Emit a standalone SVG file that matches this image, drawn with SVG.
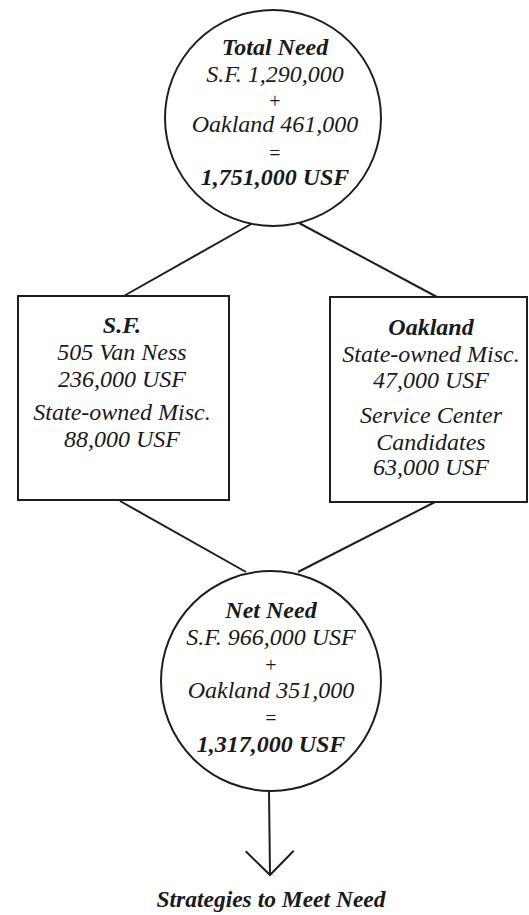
<svg xmlns="http://www.w3.org/2000/svg" width="529" height="915" viewBox="0 0 529 915">
  <style>
    .shape { fill: #ffffff; stroke: #1e1e1e; stroke-width: 2; }
    .conn { fill: none; stroke: #1e1e1e; stroke-width: 2; }
    text { font-family: "Liberation Serif", "Times New Roman", serif; font-size: 24px; font-style: italic; fill: #1a1a1a; text-anchor: middle; }
    .b { font-weight: bold; }
    .op { font-style: normal; font-size: 20px; }
  </style>
  <defs>
    <marker id="vhead" markerUnits="userSpaceOnUse" markerWidth="60" markerHeight="60" refX="0" refY="0" viewBox="-30 -30 60 60" orient="auto" overflow="visible">
      <path d="M -24 -24 L 0 0 L -24 24" fill="none" stroke="#1e1e1e" stroke-width="2"/>
    </marker>
  </defs>
  <rect x="0" y="0" width="529" height="915" fill="#ffffff"/>

  <g id="connectors">
    <line class="conn" x1="253" y1="223" x2="122" y2="297"/>
    <line class="conn" x1="299" y1="223" x2="437" y2="297"/>
    <line class="conn" x1="120" y1="501" x2="246" y2="572"/>
    <line class="conn" x1="435" y1="502" x2="298" y2="572"/>
    <line class="conn" x1="269" y1="791" x2="270" y2="875" marker-end="url(#vhead)"/>
  </g>

  <g id="total-need">
    <circle class="shape" cx="273" cy="118" r="108"/>
    <text x="275" y="55" class="b">Total Need</text>
    <text x="275" y="82">S.F. 1,290,000</text>
    <text x="275" y="108" class="op">+</text>
    <text x="275" y="132">Oakland 461,000</text>
    <text x="275" y="160" class="op">=</text>
    <text x="275" y="185" class="b">1,751,000 USF</text>
  </g>

  <g id="sf-box">
    <rect class="shape" x="18" y="296" width="211" height="204"/>
    <text x="122" y="333" class="b">S.F.</text>
    <text x="122" y="360">505 Van Ness</text>
    <text x="122" y="387">236,000 USF</text>
    <text x="122" y="420">State-owned Misc.</text>
    <text x="122" y="447">88,000 USF</text>
  </g>

  <g id="oakland-box">
    <rect class="shape" x="330" y="297" width="197" height="205"/>
    <text x="431" y="335" class="b">Oakland</text>
    <text x="431" y="362">State-owned Misc.</text>
    <text x="431" y="388">47,000 USF</text>
    <text x="431" y="423">Service Center</text>
    <text x="431" y="450">Candidates</text>
    <text x="431" y="475">63,000 USF</text>
  </g>

  <g id="net-need">
    <circle class="shape" cx="271" cy="681" r="110"/>
    <text x="271" y="618" class="b">Net Need</text>
    <text x="271" y="645">S.F. 966,000 USF</text>
    <text x="271" y="672" class="op">+</text>
    <text x="271" y="698">Oakland 351,000</text>
    <text x="271" y="725" class="op">=</text>
    <text x="271" y="752" class="b">1,317,000 USF</text>
  </g>

  <g id="strategies">
    <text x="271" y="907" class="b" style="font-size:23.5px">Strategies to Meet Need</text>
  </g>
</svg>
